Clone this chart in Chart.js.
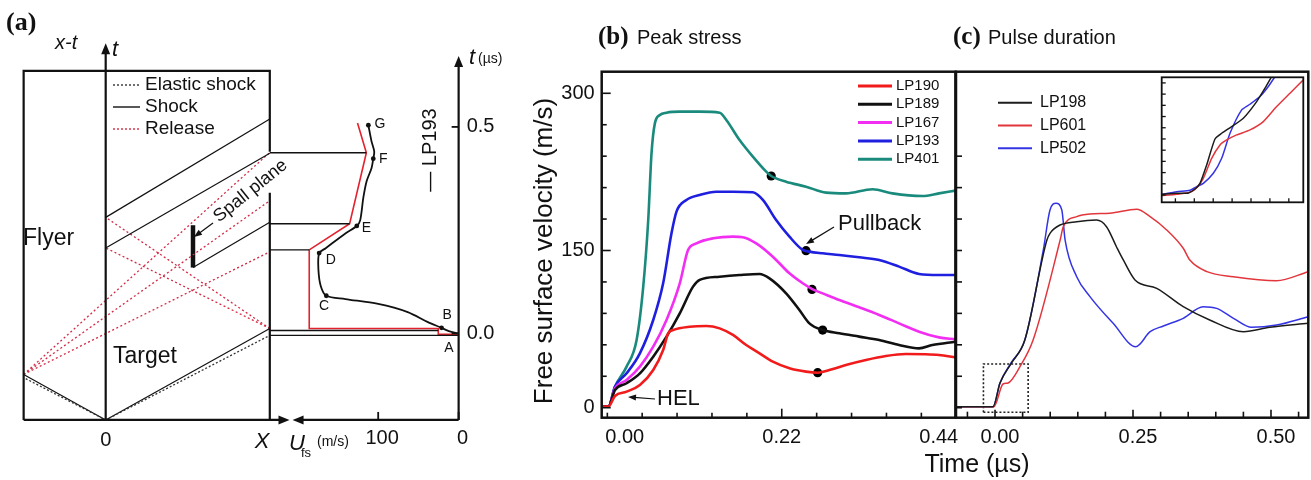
<!DOCTYPE html>
<html>
<head>
<meta charset="utf-8">
<title>Spall velocity profiles</title>
<script src="https://cdn.jsdelivr.net/npm/chart.js"></script>
<style>
  body { margin: 0; background: #fff; }
  #wrap { position: relative; width: 1311px; height: 480px; overflow: hidden; }
  #wrap canvas { position: absolute; }
  .axis-title { position: absolute; font-family: "Liberation Sans", Arial, sans-serif; color: #111; white-space: nowrap; text-align: center; }
</style>
</head>
<body>
<div id="wrap">
  <canvas id="chartA" width="520" height="480" style="left:0;top:0"></canvas>
  <canvas id="chartB" width="440" height="480" style="left:520px;top:0"></canvas>
  <canvas id="chartC" width="361" height="480" style="left:950px;top:0"></canvas>
  <canvas id="chartInset" width="161" height="150" style="left:1150px;top:65px"></canvas>
  <div class="axis-title" style="left:877px;top:448px;width:200px;font-size:25px;line-height:30px">Time (µs)</div>
</div>
<script>
const SANS = '"Liberation Sans", Arial, sans-serif';
const SERIF = '"Liberation Serif", "Times New Roman", serif';
Chart.defaults.font.family = SANS;
Chart.defaults.color = '#111';

// ---- panel (a): x-t diagram (x in target thicknesses X, t in µs) ----
const impactTime = -0.2095;
const boxTop = 0.6357;
const xtFrame = [[-0.5, impactTime], [-0.5, boxTop], [1, boxTop], [1, 0.44]];
const xtFrameLower = [[1, 0.3405], [1, impactTime]];
const xtBase = [[-0.5, impactTime], [1.06, impactTime]];
const xtTimeAxis = [[0, impactTime], [0, 0.68]];
const shockTarget = [[0, impactTime], [1, 0.0119]];
const shockFlyer = [[0, impactTime], [-0.5, -0.0993]];
const elasticTarget = [[0, impactTime], [1, -0.0048]];
const elasticFlyer = [[0, impactTime], [-0.5, -0.107]];
const reverbWave1 = [[0, 0.281], [1, 0.519]];
const reverbWave2 = [[0, 0.207], [1, 0.4364]];
const spallWave = [[0.532, 0.1595], [1, 0.269]];
const spallPlane = [[0.532, 0.1595], [0.532, 0.262]];
const releaseFan1 = [[-0.5, -0.0993], [1, 0.1976]];
const releaseFan2 = [[-0.5, -0.0993], [1, 0.3214]];
const releaseFan3 = [[-0.5, -0.0993], [1, 0.4381]];
const releaseBack1 = [[1, 0.0119], [0, 0.207]];
const releaseBack2 = [[1, 0.0119], [0, 0.281]];

// ---- panel (a): LP193 profile (U in m/s, t in µs) ----
const lp193Profile = [[0, 0], [12.2, 0.0055], [21.3, 0.0136], [38.8, 0.0279], [63.3, 0.0517], [100, 0.0714],
  [140.8, 0.0833], [164.5, 0.0912], [171.4, 0.115], [174.3, 0.1548], [173.4, 0.1945], [165.2, 0.2064],
  [140.8, 0.2421], [126.6, 0.2602], [122.4, 0.2738], [118.4, 0.3293], [114.3, 0.369], [108.2, 0.4007],
  [106.1, 0.4231], [104.9, 0.4405], [108.2, 0.4643], [112.2, 0.504]];
const lp193Simple = [[0, -0.0024], [25.3, -0.0024], [25.3, 0.0119], [185.7, 0.0119], [185.7, 0.2024],
  [135.5, 0.2655], [114.7, 0.4375], [125.7, 0.5095]];
const profileMarks = [[21.3, 0.0136], [164.5, 0.0912], [173.4, 0.1945], [126.6, 0.2602], [106.1, 0.4231], [112.2, 0.504]];
const profileLetters = ['B', 'C', 'D', 'E', 'F', 'G'];
const connectorTimes = [0.4375, 0.2655, 0.2024, 0.0071, -0.0048];
const connectorEnds = [114.7, 135.5, 185.7, 25.3, 0];
const profileTimeTicks = [0, 0.5];
const ufsTicks = [100, 0];

// ---- panel (b): peak stress, free surface velocity (m/s) vs time (µs) ----
const lp190 = [[-0.0323, 1], [-0.023, 1], [-0.0137, 11.2], [0.0026, 15.3], [0.0212, 21.7], [0.0399, 36.0], [0.0538, 55.1],
  [0.0608, 71.0], [0.0678, 74.1], [0.0911, 77.3], [0.1144, 78.0], [0.133, 75.7], [0.1516, 69.4], [0.1702, 59.8],
  [0.1889, 51.9], [0.2075, 43.9], [0.2308, 37.6], [0.254, 34.4], [0.2703, 33.4], [0.2866, 36.0], [0.3099, 40.7],
  [0.3379, 45.5], [0.3658, 49.3], [0.3937, 51.2], [0.4217, 51.0], [0.4403, 50.3], [0.4633, 48.1]];
const lp189 = [[-0.0323, 1], [-0.023, 1], [-0.0137, 16.9], [0.0026, 23.3], [0.0212, 32.8], [0.0399, 48.7], [0.0585, 67.8],
  [0.0771, 90.0], [0.0957, 115.5], [0.105, 121.9], [0.133, 125.0], [0.1609, 126.6], [0.1889, 127.6], [0.2028, 123.4],
  [0.2261, 109.1], [0.2447, 93.2], [0.2587, 80.5], [0.2773, 74.1], [0.3006, 71.0], [0.3285, 67.8], [0.3565, 64.6],
  [0.3844, 59.8], [0.4124, 56.6], [0.431, 59.8], [0.4633, 63.0]];
const lp167 = [[-0.0323, 1], [-0.023, 1], [-0.0137, 18.5], [0.0026, 26.4], [0.0212, 39.2], [0.0399, 58.2], [0.0585, 83.7],
  [0.0771, 118.7], [0.0887, 150.5], [0.1004, 156.8], [0.1237, 161.6], [0.1516, 163.2], [0.1656, 162.6], [0.1842, 156.8],
  [0.2075, 144.1], [0.2308, 128.2], [0.2494, 118.7], [0.2634, 112.9], [0.2773, 109.1], [0.3006, 102.8], [0.3285, 95.8],
  [0.3565, 88.5], [0.3844, 80.5], [0.4124, 72.5], [0.4403, 67.1], [0.4633, 65.2]];
const lp193 = [[-0.0323, 1], [-0.023, 1], [-0.0137, 20.1], [0.0026, 32.8], [0.0212, 51.9], [0.0399, 83.7], [0.0538, 118.7],
  [0.0655, 166.4], [0.0725, 187.1], [0.0864, 198.2], [0.105, 203.0], [0.1283, 206.1], [0.1516, 206.1], [0.1795, 205.5],
  [0.1935, 198.2], [0.2121, 179.1], [0.2308, 163.2], [0.2494, 150.5], [0.2587, 148.9], [0.2773, 147.3], [0.3006, 145.7],
  [0.3285, 143.5], [0.3565, 140.9], [0.3844, 134.6], [0.4124, 127.6], [0.4403, 126.6], [0.4633, 126.6]];
const lp401 = [[-0.0323, 1], [-0.023, 1], [-0.0137, 20.1], [0.0026, 39.2], [0.0166, 64.6], [0.0259, 115.5], [0.0329, 179.1],
  [0.0375, 242.7], [0.0422, 271.3], [0.0492, 279.3], [0.0585, 281.5], [0.0771, 282.5], [0.105, 282.5], [0.133, 281.5],
  [0.1423, 274.5], [0.1609, 255.4], [0.1795, 239.5], [0.1982, 225.2], [0.2052, 221.1], [0.2261, 215.7], [0.254, 210.9],
  [0.282, 205.2], [0.3099, 204.5], [0.3472, 208.4], [0.3751, 204.5], [0.417, 202.0], [0.4403, 204.5], [0.4633, 207.1]];
const pullbackPoints = [[0.2052, 221.1], [0.254, 149.8], [0.2624, 112.9], [0.2773, 74.1], [0.2703, 33.4]];
const peakTimeTicks = [0, 0.22, 0.44];
const peakTimeMarks = [-0.0244, 0.0244, 0.0733, 0.1222, 0.1711, 0.22, 0.2689, 0.3178, 0.3667, 0.4156];
const velocityTicks = [0, 150, 300];
const velocityMarks = [0, 30, 60, 90, 120, 150, 180, 210, 240, 270, 300];

// ---- panel (c): pulse duration ----
const lp198 = [[-0.0707, 1], [-0.0036, 1], [0.009, 23.6], [0.03, 42.7], [0.054, 64.6], [0.094, 160], [0.0996, 166.4],
  [0.1178, 174.3], [0.148, 177.5], [0.184, 179], [0.202, 172.7], [0.22, 153.6], [0.2324, 141], [0.2536, 121.9],
  [0.293, 113.9], [0.341, 96.4], [0.389, 83.7], [0.45, 72.5], [0.498, 76.7], [0.5676, 80.5]];
const lp601 = [[-0.0707, 1], [-0.002, 1], [0.0145, 22.6], [0.0236, 23.6], [0.045, 39], [0.069, 64.6], [0.118, 160],
  [0.1237, 172.7], [0.148, 182.3], [0.172, 184.8], [0.208, 185.5], [0.2567, 189.3], [0.281, 182.3], [0.311, 169.6],
  [0.341, 152.1], [0.353, 140.9], [0.384, 129.8], [0.432, 125], [0.51, 121.2], [0.5676, 129.8]];
const lp502 = [[-0.0707, 1], [-0.0036, 1], [0.009, 23.6], [0.029, 42.7], [0.054, 64.6], [0.0875, 150.5], [0.0996, 188.6],
  [0.1105, 195], [0.121, 188.6], [0.127, 160], [0.148, 125], [0.172, 106], [0.214, 80.5], [0.255, 58.2], [0.281, 72.5],
  [0.305, 78], [0.341, 85.3], [0.377, 96.4], [0.4016, 94.8], [0.432, 85.3], [0.465, 76.7], [0.51, 78.9], [0.5676, 86.8]];
const zoomBox = [[-0.021, -4.4], [0.06, -4.4], [0.06, 41.7], [-0.021, 41.7], [-0.021, -4.4]];
const pulseTimeTicks = [0, 0.25, 0.5];
const pulseTimeMarks = [-0.05, 0, 0.05, 0.1, 0.15, 0.2, 0.25, 0.3, 0.35, 0.4, 0.45, 0.5, 0.55];
const pulseVelocityMarks = [0, 30, 60, 90, 120, 150, 180, 210, 240];

// ---- panel (c) inset: first rise ----
const lp198Rise = [[-0.01727, 0.25], [-0.00933, 0.6], [-0.00316, 0.72], [0.00037, 2.15], [0.00302, 4.17], [0.00654, 10.72],
  [0.01095, 20.0], [0.01448, 22.03], [0.01977, 24.41], [0.02594, 27.39], [0.033, 33.34], [0.03741, 38.1], [0.04094, 42.27]];
const lp601Rise = [[-0.01727, -0.23], [-0.00933, 0.25], [-0.00228, 0.96], [0.00125, 2.63], [0.00478, 5.96], [0.00919, 13.1],
  [0.0136, 17.86], [0.01713, 19.65], [0.02242, 21.44], [0.02947, 23.22], [0.03652, 26.2], [0.04358, 31.55], [0.05063, 36.32], [0.05769, 41.08]];
const lp502Rise = [[-0.01727, 0.25], [-0.00933, 1.2], [-0.00228, 1.68], [0.00125, 2.98], [0.00478, 4.17], [0.01007, 7.75],
  [0.01448, 13.1], [0.01889, 22.03], [0.02506, 30.36], [0.02947, 32.39], [0.03476, 35.13], [0.03917, 38.7], [0.0427, 42.27]];
const insetTimeMarks = [-0.01, 0, 0.01, 0.02, 0.03, 0.04, 0.05];
const insetVelocityMarks = [0, 4, 8, 12, 16, 20, 24, 28, 32, 36, 40];

// ---------- helpers ----------
const toXY = pts => pts.map(p => ({ x: p[0], y: p[1] }));

function line(ctx, x1, y1, x2, y2) {
  ctx.beginPath();
  ctx.moveTo(x1, y1);
  ctx.lineTo(x2, y2);
  ctx.stroke();
}

function text(ctx, s, x, y, font, align, rot) {
  ctx.save();
  ctx.translate(x, y);
  if (rot) ctx.rotate(rot);
  ctx.font = font;
  ctx.textAlign = align || 'left';
  ctx.textBaseline = 'middle';
  ctx.fillStyle = '#111';
  ctx.fillText(s, 0, 0);
  ctx.restore();
}

function arrowHead(ctx, x, y, ang, len, half) {
  ctx.save();
  ctx.translate(x, y);
  ctx.rotate(ang);
  ctx.beginPath();
  ctx.moveTo(0, 0);
  ctx.lineTo(-(len || 11), -(half || 4.5));
  ctx.lineTo(-(len || 11), half || 4.5);
  ctx.closePath();
  ctx.fillStyle = '#111';
  ctx.fill();
  ctx.restore();
}

function arrow(ctx, x1, y1, x2, y2) {
  const ang = Math.atan2(y2 - y1, x2 - x1);
  ctx.strokeStyle = '#111';
  ctx.lineWidth = 1.2;
  line(ctx, x1, y1, x2 - 6 * Math.cos(ang), y2 - 6 * Math.sin(ang));
  arrowHead(ctx, x2, y2, ang, 8, 3);
}

function seg(pts, axis, color, width, dash) {
  return {
    data: toXY(pts), xAxisID: axis, yAxisID: 't', borderColor: color, borderWidth: width,
    borderDash: dash || [], pointRadius: 0, showLine: true, fill: false, tension: 0
  };
}

const baseOptions = {
  responsive: false,
  animation: false,
  events: [],
  plugins: { legend: { display: false }, tooltip: { enabled: false } }
};

// ---------- panel (a) ----------
const RED_DOT = '#d32a45';
const panelADecor = {
  id: 'panelADecor',
  afterDatasetsDraw(chart) {
    const { ctx, scales } = chart;
    const px = v => scales.x.getPixelForValue(v);
    const pu = v => scales.u.getPixelForValue(v);
    const pt = v => scales.t.getPixelForValue(v);
    ctx.save();

    // connectors from the free surface to the profile
    ctx.strokeStyle = '#111';
    ctx.lineWidth = 1.3;
    connectorTimes.forEach((t, i) => line(ctx, px(1), pt(t), pu(connectorEnds[i]), pt(t)));

    // axis arrows
    arrowHead(ctx, px(0), pt(0.7024), -Math.PI / 2);
    arrowHead(ctx, px(1.12), pt(impactTime), 0);
    arrowHead(ctx, pu(206.4), pt(impactTime), Math.PI);
    arrowHead(ctx, pu(0), pt(0.6714), -Math.PI / 2);

    // tick marks
    ctx.lineWidth = 1.8;
    profileTimeTicks.forEach(v => line(ctx, pu(0), pt(v), pu(0) - 7, pt(v)));
    ufsTicks.forEach(v => line(ctx, pu(v), pt(impactTime), pu(v), pt(impactTime) - 8));
    profileTimeTicks.forEach(v => text(ctx, v.toFixed(1), pu(0) + 8, pt(v), '20px ' + SANS, 'left'));
    ufsTicks.forEach(v => text(ctx, String(v), pu(v) + 4, pt(impactTime) + 19, '20px ' + SANS, 'center'));

    // profile point letters
    const letterOffsets = [[5.7, -12.6], [-2.3, 10], [11.7, 6.7], [9.7, 2.3], [10, 0.7], [11.7, -1.6]];
    profileMarks.forEach((p, i) => text(ctx, profileLetters[i], pu(p[0]) + letterOffsets[i][0],
      pt(p[1]) + letterOffsets[i][1], '14px ' + SANS, 'center'));
    text(ctx, 'A', pu(25.3) + 10.7, pt(-0.0024) + 14, '14px ' + SANS, 'center');

    // legend of the x-t diagram
    ctx.lineWidth = 1.4;
    ctx.setLineDash([2, 2]);
    ctx.strokeStyle = '#333';
    line(ctx, 113, 85, 140, 85);
    ctx.strokeStyle = RED_DOT;
    line(ctx, 113, 129, 140, 129);
    ctx.setLineDash([]);
    ctx.strokeStyle = '#111';
    line(ctx, 113, 107, 140, 107);
    text(ctx, 'Elastic shock', 145, 85, '19px ' + SANS);
    text(ctx, 'Shock', 145, 107, '19px ' + SANS);
    text(ctx, 'Release', 145, 129, '19px ' + SANS);

    // labels
    text(ctx, '(a)', 6, 23, 'bold 26px ' + SERIF);
    text(ctx, 'x-t', 55, 43, 'italic 20px ' + SANS);
    text(ctx, 't', 112, 50, 'italic 22px ' + SANS);
    text(ctx, 'Flyer', 23, 239, '23px ' + SANS);
    text(ctx, 'Target', 113, 357, '23px ' + SANS);
    text(ctx, '0', px(0), 440, '20px ' + SANS, 'center');
    text(ctx, 'X', 262, 442, 'italic 22px ' + SANS, 'center');
    text(ctx, 'U', 289, 444, 'italic 22px ' + SANS);
    text(ctx, 'fs', 301, 453, '13px ' + SANS);
    text(ctx, '(m/s)', 317, 442, '14px ' + SANS);
    text(ctx, 't', 469, 58, 'italic 22px ' + SANS);
    text(ctx, '(µs)', 478, 59, '14px ' + SANS);
    text(ctx, '— LP193', 430, 150, '20px ' + SANS, 'center', -Math.PI / 2);
    text(ctx, 'Spall plane', 216, 219, '18px ' + SANS, 'left', -0.68);
    arrow(ctx, 213, 223, 194, 237);
    ctx.restore();
  }
};

new Chart(document.getElementById('chartA'), {
  type: 'scatter',
  data: {
    datasets: [
      seg(xtFrame, 'x', '#111', 2.2),
      seg(xtFrameLower, 'x', '#111', 2.2),
      seg(xtBase, 'x', '#111', 2.2),
      seg(xtTimeAxis, 'x', '#111', 2.2),
      seg(elasticTarget, 'x', '#333', 1.3, [2, 2]),
      seg(elasticFlyer, 'x', '#333', 1.3, [2, 2]),
      seg(shockTarget, 'x', '#111', 1.2),
      seg(shockFlyer, 'x', '#111', 1.2),
      seg(reverbWave1, 'x', '#111', 1.2),
      seg(reverbWave2, 'x', '#111', 1.2),
      seg(spallWave, 'x', '#111', 1.2),
      seg(releaseFan1, 'x', RED_DOT, 1.3, [2, 2.5]),
      seg(releaseFan2, 'x', RED_DOT, 1.3, [2, 2.5]),
      seg(releaseFan3, 'x', RED_DOT, 1.3, [2, 2.5]),
      seg(releaseBack1, 'x', RED_DOT, 1.3, [2, 2.5]),
      seg(releaseBack2, 'x', RED_DOT, 1.3, [2, 2.5]),
      seg(spallPlane, 'x', '#111', 4.5),
      seg([[195, impactTime], [0, impactTime]], 'u', '#111', 2.2),
      seg([[0, impactTime], [0, 0.65]], 'u', '#111', 2.2),
      seg(lp193Simple, 'u', '#e2232e', 1.6),
      Object.assign(seg(lp193Profile, 'u', '#111', 1.8), { tension: 0.3 }),
      {
        data: toXY(profileMarks), xAxisID: 'u', yAxisID: 't', showLine: false,
        pointRadius: 2.4, pointBackgroundColor: '#111', pointBorderWidth: 0
      }
    ]
  },
  options: Object.assign({}, baseOptions, {
    layout: { padding: 0 },
    scales: {
      x: { type: 'linear', display: false, min: -0.6197, max: 2.5003 },
      u: { type: 'linear', axis: 'x', position: 'bottom', display: false, reverse: true, min: -71.3, max: 565.1 },
      t: { type: 'linear', axis: 'y', position: 'left', display: false, min: -0.3452, max: 0.7976 }
    }
  }),
  plugins: [panelADecor]
});

// ---------- panel (b) ----------
const bSeries = [
  { label: 'LP190', data: lp190, color: '#f21b1b' },
  { label: 'LP189', data: lp189, color: '#111111' },
  { label: 'LP167', data: lp167, color: '#f22ef2' },
  { label: 'LP193', data: lp193, color: '#1f1fe0' },
  { label: 'LP401', data: lp401, color: '#1a8a7c' }
];

const panelBDecor = {
  id: 'panelBDecor',
  afterDatasetsDraw(chart) {
    const { ctx, chartArea: a, scales: { x, y } } = chart;
    ctx.save();
    ctx.strokeStyle = '#111';
    ctx.lineWidth = 1.6;
    peakTimeMarks.forEach(v => {
      const len = peakTimeTicks.includes(v) ? 9 : 5;
      line(ctx, x.getPixelForValue(v), a.bottom, x.getPixelForValue(v), a.bottom - len);
    });
    velocityMarks.forEach(v => {
      const len = velocityTicks.includes(v) ? 9 : 5;
      line(ctx, a.left, y.getPixelForValue(v), a.left + len, y.getPixelForValue(v));
    });
    ctx.lineWidth = 2.5;
    ctx.strokeRect(a.left, a.top, a.right - a.left, a.bottom - a.top);

    // page coordinates from here on
    ctx.translate(-520, 0);
    bSeries.forEach((s, i) => {
      const ly = 86 + i * 18.3;
      ctx.strokeStyle = s.color;
      ctx.lineWidth = 3;
      line(ctx, 858, ly, 892, ly);
      text(ctx, s.label, 896, ly, '15px ' + SANS);
    });
    text(ctx, '(b)', 598, 38, 'bold 25px ' + SERIF);
    text(ctx, 'Peak stress', 637, 38, '20px ' + SANS);
    text(ctx, 'Free surface velocity (m/s)', 545, 251, '26px ' + SANS, 'center', -Math.PI / 2);
    text(ctx, 'Pullback', 838, 224, '22px ' + SANS);
    arrow(ctx, 834, 227, 806, 244);
    text(ctx, 'HEL', 657, 399, '22px ' + SANS);
    arrow(ctx, 655, 399, 628, 397);
    ctx.restore();
  }
};

new Chart(document.getElementById('chartB'), {
  type: 'scatter',
  data: {
    datasets: bSeries.map(s => ({
      label: s.label, data: toXY(s.data), borderColor: s.color, borderWidth: 2.6,
      pointRadius: 0, showLine: true, cubicInterpolationMode: 'monotone'
    })).concat([{
      label: 'Pullback', data: toXY(pullbackPoints), showLine: false,
      pointRadius: 4.6, pointBackgroundColor: '#000', pointBorderWidth: 0
    }])
  },
  options: Object.assign({}, baseOptions, {
    layout: { padding: { top: 71.7, right: 3.5, left: 0, bottom: 0 } },
    scales: {
      x: {
        type: 'linear', min: -0.0323, max: 0.4633,
        afterBuildTicks: ax => { ax.ticks = peakTimeTicks.map(v => ({ value: v })); },
        afterFit: ax => { ax.height = 62.3; ax.paddingLeft = 0; ax.paddingRight = 0; },
        grid: { display: false, drawTicks: false }, border: { display: false },
        ticks: { font: { size: 20 }, color: '#111', padding: 8, maxRotation: 0, autoSkip: false, callback: v => v.toFixed(2) }
      },
      y: {
        type: 'linear', min: -9.54, max: 320.6,
        afterBuildTicks: ax => { ax.ticks = velocityTicks.map(v => ({ value: v })); },
        afterFit: ax => { ax.width = 81.7; ax.paddingTop = 0; ax.paddingBottom = 0; },
        grid: { display: false, drawTicks: false }, border: { display: false },
        ticks: { font: { size: 20 }, color: '#111', padding: 7, autoSkip: false }
      }
    }
  }),
  plugins: [panelBDecor]
});

// ---------- panel (c) ----------
const cSeries = [
  { label: 'LP198', data: lp198, color: '#1c1c1c' },
  { label: 'LP601', data: lp601, color: '#e2363c' },
  { label: 'LP502', data: lp502, color: '#3434e4' }
];

const panelCDecor = {
  id: 'panelCDecor',
  afterDatasetsDraw(chart) {
    const { ctx, chartArea: a, scales: { x, y } } = chart;
    ctx.save();
    ctx.strokeStyle = '#111';
    ctx.lineWidth = 1.6;
    pulseTimeMarks.forEach(v => {
      const len = pulseTimeTicks.includes(v) ? 8 : 6;
      line(ctx, x.getPixelForValue(v), a.bottom, x.getPixelForValue(v), a.bottom - len);
    });
    pulseVelocityMarks.forEach(v => line(ctx, a.left, y.getPixelForValue(v), a.left + 6, y.getPixelForValue(v)));
    ctx.lineWidth = 2.5;
    ctx.strokeRect(a.left, a.top, a.right - a.left, a.bottom - a.top);

    ctx.translate(-950, 0);
    cSeries.forEach((s, i) => {
      const ly = 102.7 + i * 22.8;
      ctx.strokeStyle = s.color;
      ctx.lineWidth = 2;
      line(ctx, 998, ly, 1032, ly);
      text(ctx, s.label, 1040, ly, '16px ' + SANS);
    });
    text(ctx, '(c)', 953, 38, 'bold 25px ' + SERIF);
    text(ctx, 'Pulse duration', 988, 38, '20px ' + SANS);
    ctx.restore();
  }
};

new Chart(document.getElementById('chartC'), {
  type: 'scatter',
  data: {
    datasets: cSeries.map(s => ({
      label: s.label, data: toXY(s.data), borderColor: s.color, borderWidth: 1.5,
      pointRadius: 0, showLine: true, cubicInterpolationMode: 'monotone'
    })).concat([{
      label: 'zoom', data: toXY(zoomBox), showLine: true, borderColor: '#222', borderWidth: 1.6,
      borderDash: [2, 2], pointRadius: 0, tension: 0
    }])
  },
  options: Object.assign({}, baseOptions, {
    layout: { padding: { top: 71.7, right: 2.7, left: 6, bottom: 0 } },
    scales: {
      x: {
        type: 'linear', min: -0.0707, max: 0.5676,
        afterBuildTicks: ax => { ax.ticks = pulseTimeTicks.map(v => ({ value: v })); },
        afterFit: ax => { ax.height = 62.3; ax.paddingLeft = 0; ax.paddingRight = 0; },
        grid: { display: false, drawTicks: false }, border: { display: false },
        ticks: { font: { size: 20 }, color: '#111', padding: 8, labelOffset: 5, maxRotation: 0, autoSkip: false, callback: v => v.toFixed(2) }
      },
      y: { type: 'linear', display: false, min: -9.54, max: 320.6 }
    }
  }),
  plugins: [panelCDecor]
});

// ---------- inset ----------
const insetDecor = {
  id: 'insetDecor',
  beforeDatasetsDraw(chart) {
    const { ctx, chartArea: a } = chart;
    ctx.save();
    ctx.fillStyle = '#fff';
    ctx.fillRect(a.left, a.top, a.right - a.left, a.bottom - a.top);
    ctx.restore();
  },
  afterDatasetsDraw(chart) {
    const { ctx, chartArea: a, scales: { x, y } } = chart;
    ctx.save();
    ctx.strokeStyle = '#111';
    ctx.lineWidth = 1.3;
    insetTimeMarks.forEach(v => line(ctx, x.getPixelForValue(v), a.bottom, x.getPixelForValue(v), a.bottom - 4));
    insetVelocityMarks.forEach(v => line(ctx, a.left, y.getPixelForValue(v), a.left + 4, y.getPixelForValue(v)));
    ctx.lineWidth = 1.8;
    ctx.strokeRect(a.left, a.top, a.right - a.left, a.bottom - a.top);
    ctx.restore();
  }
};

new Chart(document.getElementById('chartInset'), {
  type: 'scatter',
  data: {
    datasets: [
      { data: toXY(lp198Rise), borderColor: '#1c1c1c' },
      { data: toXY(lp601Rise), borderColor: '#e2363c' },
      { data: toXY(lp502Rise), borderColor: '#3434e4' }
    ].map(d => Object.assign(d, { borderWidth: 1.5, pointRadius: 0, showLine: true, tension: 0.2 }))
  },
  options: Object.assign({}, baseOptions, {
    layout: { padding: { left: 11.7, top: 12.3, right: 7.7, bottom: 12.7 } },
    scales: {
      x: { type: 'linear', display: false, min: -0.01725, max: 0.05767 },
      y: { type: 'linear', display: false, min: -2.6, max: 42.0 }
    }
  }),
  plugins: [insetDecor]
});
</script>
</body>
</html>
